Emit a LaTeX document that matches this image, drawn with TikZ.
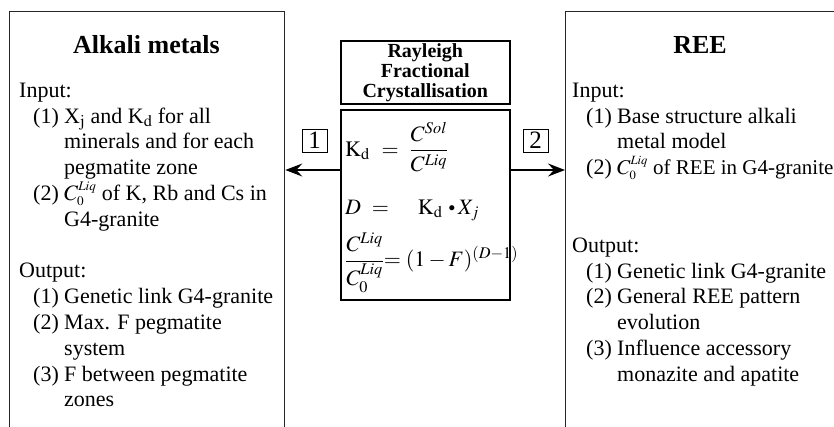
\documentclass[tikz,border=0pt]{standalone}
\usepackage{amsmath}
\usepackage{mathptmx}
\usepackage{fontspec}
\setmainfont{Liberation Serif}
\usetikzlibrary{arrows.meta,positioning}
\newcommand{\itemno}[1]{\hspace*{14pt}\makebox[31pt][l]{#1}}
\newcommand{\contline}{\hspace*{45pt}}
\newcommand{\cliq}{$C_{\scriptscriptstyle 0}^{\scriptscriptstyle Liq}$}
\begin{document}
\begin{tikzpicture}[
  x=1pt, y=-1pt,
  body/.style={font=\fontsize{22}{25.8}\selectfont, align=left,
               anchor=north west, inner sep=0pt},
  panel/.style={draw=black!85, line width=1.3pt, anchor=north west,
                inner sep=0pt, minimum height=460pt},
  ttl/.style={font=\fontsize{26}{30}\selectfont\bfseries, anchor=base},
  cbox/.style={draw, line width=1.6pt, anchor=north west, inner sep=0pt,
               minimum width=169pt},
  eqn/.style={inner sep=0pt, font=\fontsize{22}{26}\selectfont},
  numbox/.style={draw, line width=0.8pt, minimum width=25pt,
                 minimum height=23pt, inner sep=0pt,
                 font=\fontsize{25}{25}\selectfont},
  arr/.style={-{Stealth[length=17pt,width=13pt,inset=6pt]}, line width=1.3pt}
]
\fill[white] (0,0) rectangle (834,426);
\useasboundingbox (0,0) rectangle (834,426);
\clip (0,0) rectangle (834,426);

\node[panel, minimum width=275pt] (alkali) at (9,11) {};
\node[panel, minimum width=271pt] (ree) at (565,11) {};

\node[ttl] (alkttl) at (146.5,53) {Alkali metals};
\node[ttl] (reettl) at (700,53) {REE};

\node[body] (alkin) at (19,79) {\strut Input:\\
  \itemno{(1)}X$_\mathrm{j}$ and K$_\mathrm{d}$ for all\\
  \contline minerals and for each\\
  \contline pegmatite zone\\
  \itemno{(2)}\cliq\ of K, Rb and Cs in\\
  \contline G4-granite};
\node[body] (alkout) at (19,259.6) {\strut Output:\\
  \itemno{(1)}Genetic link G4-granite\\
  \itemno{(2)}Max. F pegmatite\\
  \contline system\\
  \itemno{(3)}F between pegmatite\\
  \contline zones};

\node[body] (reein) at (572,79) {\strut Input:\\
  \itemno{(1)}Base structure alkali\\
  \contline metal model\\
  \itemno{(2)}{\fontsize{21}{25.8}\selectfont\cliq\ of REE in G4-granite}};
\node[body] (reeout) at (572,234) {\strut Output:\\
  \itemno{(1)}Genetic link G4-granite\\
  \itemno{(2)}General REE pattern\\
  \contline evolution\\
  \itemno{(3)}Influence accessory\\
  \contline monazite and apatite};

\node[cbox, minimum height=63pt, align=center,
      font=\fontsize{20}{20}\selectfont\bfseries] (rfc) at (340,40)
  {Rayleigh\\Fractional\\Crystallisation};
\node[cbox, minimum height=190pt] (eqs) at (340,109) {};

\node[eqn, anchor=west] (eq1) at (345,147)
  {$\mathrm{K_d}\hspace{7pt}=\hspace{6pt}\dfrac{C^{Sol}}{C^{Liq}}$};
\node[eqn, anchor=base west] (eq2) at (345,214)
  {$D\hspace{6pt}=\hspace{24pt}\mathrm{K_d}\hspace{3pt}\mathbin{\vcenter{\hbox{\scalebox{0.6}{$\bullet$}}}}X_j$};
\node[eqn, anchor=west] (eq3) at (345,263)
  {$\dfrac{C^{Liq}}{C^{Liq}_0}\!\!=(1-F)^{(D-1)}$};

\node[numbox] (n1) at (314.5,140.5) {1};
\node[numbox] (n2) at (535.5,140.5) {2};

\draw[arr] ([yshift=-61pt]eqs.north west) coordinate (la) -- (la -| alkali.east);
\draw[arr] ([yshift=-61pt]eqs.north east) coordinate (ra) -- (ra -| ree.west);
\end{tikzpicture}
\end{document}
